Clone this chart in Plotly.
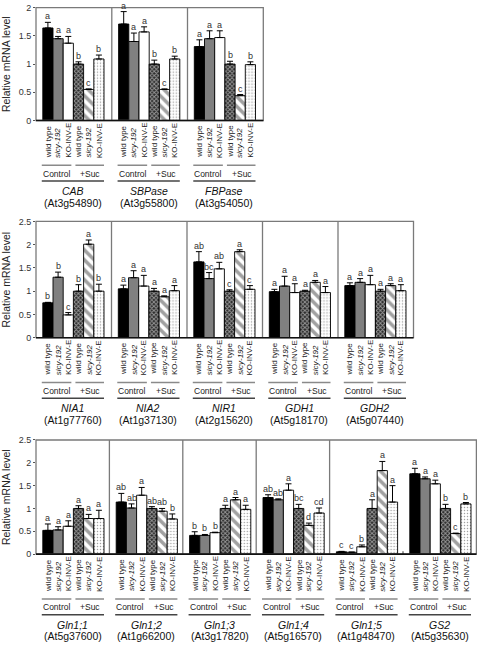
import plotly.graph_objects as go

# ---------------- data ----------------
GENOTYPES = ["wild type", "sicy-192", "KO-INV-E"]
TREATMENTS = ["Control", "+Suc"]
GENES = ["CAB", "SBPase", "FBPase",
         "NIA1", "NIA2", "NIR1", "GDH1", "GDH2",
         "Gln1;1", "Gln1;2", "Gln1;3", "Gln1;4", "Gln1;5", "GS2"]
AGI_CODES = ["At3g54890", "At3g55800", "At3g54050",
             "At1g77760", "At1g37130", "At2g15620", "At5g18170", "At5g07440",
             "At5g37600", "At1g66200", "At3g17820", "At5g16570", "At1g48470", "At5g35630"]
MEANS = [
    [1.64, 1.45, 1.37, 1.00, 0.55, 1.09],   # CAB
    [1.71, 1.40, 1.57, 1.00, 0.55, 1.09],   # SBPase
    [1.31, 1.45, 1.47, 1.00, 0.44, 0.99],   # FBPase
    [0.75, 1.30, 0.49, 1.00, 2.01, 1.00],   # NIA1
    [1.05, 1.29, 1.11, 1.00, 0.88, 1.01],   # NIA2
    [1.63, 1.27, 1.48, 1.00, 1.85, 1.04],   # NIR1
    [0.99, 1.11, 0.97, 1.00, 1.19, 0.97],   # GDH1
    [1.12, 1.19, 1.14, 1.00, 1.12, 1.01],   # GDH2
    [0.52, 0.53, 0.61, 1.00, 0.78, 0.78],   # Gln1;1
    [1.14, 1.01, 1.29, 1.00, 0.94, 0.77],   # Gln1;2
    [0.41, 0.41, 0.47, 1.00, 1.19, 0.98],   # Gln1;3
    [1.24, 1.19, 1.40, 1.00, 0.63, 0.90],   # Gln1;4
    [0.05, 0.04, 0.16, 1.00, 1.83, 1.14],   # Gln1;5
    [1.76, 1.65, 1.54, 1.00, 0.45, 1.10],   # GS2
]
ERRORS = [
    [0.10, 0.04, 0.12, 0.04, 0.01, 0.07],
    [0.22, 0.15, 0.09, 0.07, 0.01, 0.05],
    [0.12, 0.14, 0.12, 0.05, 0.02, 0.05],
    [0.01, 0.11, 0.05, 0.14, 0.09, 0.15],
    [0.08, 0.15, 0.23, 0.06, 0.02, 0.11],
    [0.22, 0.13, 0.14, 0.03, 0.04, 0.08],
    [0.05, 0.21, 0.19, 0.02, 0.04, 0.13],
    [0.06, 0.08, 0.20, 0.04, 0.04, 0.13],
    [0.14, 0.07, 0.12, 0.06, 0.09, 0.18],
    [0.19, 0.09, 0.17, 0.04, 0.06, 0.11],
    [0.08, 0.02, 0.01, 0.07, 0.05, 0.09],
    [0.06, 0.02, 0.14, 0.09, 0.05, 0.11],
    [0.01, 0.005, 0.04, 0.19, 0.20, 0.36],
    [0.12, 0.04, 0.08, 0.09, 0.01, 0.03],
]
LETTERS = [
    ["a", "a", "a", "b", "c", "b"],
    ["a", "a", "a", "b", "c", "b"],
    ["a", "a", "a", "b", "c", "b"],
    ["b", "b", "c", "b", "a", "b"],
    ["a", "a", "a", "a", "a", "a"],
    ["ab", "bc", "ab", "c", "a", "c"],
    ["a", "a", "a", "a", "a", "a"],
    ["a", "a", "a", "a", "a", "a"],
    ["a", "a", "a", "a", "a", "a"],
    ["ab", "ab", "a", "ab", "ab", "b"],
    ["b", "b", "b", "a", "a", "a"],
    ["ab", "ab", "a", "bc", "d", "cd"],
    ["c", "c", "b", "a", "a", "a"],
    ["a", "a", "a", "b", "c", "b"],
]
Y_TICKS_ROW1 = [0, 0.5, 1, 1.5, 2]
Y_TICKS_ROW23 = [0, 0.5, 1, 1.5, 2, 2.5]
Y_TITLE = "Relative mRNA level"

# ---------------- layout (pixel geometry) ----------------
W, H = 477, 649
FONT = "Liberation Sans, Arial, sans-serif"
ROWS = [
    dict(genes=[0, 1, 2], top=2.7, zero=117.3, ymax=2, ticks=Y_TICKS_ROW1,
         edges=[36, 111.8, 187.5, 263.3], no_sep=[]),
    dict(genes=[3, 4, 5, 6, 7], top=219.8, zero=337.9, ymax=2.5, ticks=Y_TICKS_ROW23,
         edges=[36, 111.5, 187, 262.5, 338, 413.5], no_sep=[]),
    dict(genes=[8, 9, 10, 11, 12, 13], top=441.8, zero=557.7, ymax=2.5, ticks=Y_TICKS_ROW23,
         edges=[36, 109.4, 182.8, 256.2, 329.6, 403, 476.4], no_sep=[5]),
]
BAR_PX = 10.2
LEFT_PAD = 6.8

BAR_COLORS = ["#000000", "#808080", "#ffffff", "#2a2a2a", "#ffffff", "#ffffff"]
PAT_SHAPE = ["", "", "", "x", "\\", "."]
PAT_FG = ["#000000", "#000000", "#000000", "#000000", "#000000", "#444444"]
PAT_BG = ["#000000", "#808080", "#ffffff", "#6a6a6a", "#ffffff", "#ffffff"]
PAT_SIZE = [6, 6, 6, 3, 7, 3]
PAT_SOL = [0.3, 0.3, 0.3, 0.55, 0.5, 0.2]


def px_x(p):
    return p / W


def px_y(p):
    return 1 - p / H


fig = go.Figure()
shapes = []
annotations = []
layout_axes = {}

k = 0
for r, row in enumerate(ROWS):
    for j, g in enumerate(row["genes"]):
        k += 1
        xa = "x" if k == 1 else f"x{k}"
        ya = "y" if k == 1 else f"y{k}"
        xl = "xaxis" if k == 1 else f"xaxis{k}"
        yl = "yaxis" if k == 1 else f"yaxis{k}"
        x0p, x1p = row["edges"][j], row["edges"][j + 1]
        width_units = (x1p - x0p) / BAR_PX
        rlo = -0.5 - LEFT_PAD / BAR_PX
        layout_axes[xl] = dict(domain=[px_x(x0p), px_x(x1p)], range=[rlo, rlo + width_units],
                               visible=False, anchor=ya, fixedrange=True)
        first = (j == 0)
        layout_axes[yl] = dict(domain=[px_y(row["zero"]), px_y(row["top"])],
                               range=[0, row["ymax"]], anchor=xa, fixedrange=True,
                               showgrid=False, zeroline=False, showline=False,
                               visible=first, tickvals=row["ticks"],
                               ticktext=[f"{t:g}" for t in row["ticks"]],
                               ticks="outside", ticklen=2, tickcolor="#555",
                               tickfont=dict(size=9, color="#333", family=FONT))

        fig.add_trace(go.Bar(
            x=list(range(6)), y=MEANS[g], xaxis=xa, yaxis=ya, width=1.0,
            marker=dict(color=BAR_COLORS, line=dict(color="black", width=0.9),
                        pattern=dict(shape=PAT_SHAPE, fgcolor=PAT_FG, bgcolor=PAT_BG,
                                     size=PAT_SIZE, solidity=PAT_SOL)),
            error_y=dict(type="data", array=ERRORS[g], arrayminus=[0] * 6, symmetric=False,
                         color="black", thickness=1, width=3),
            showlegend=False, hoverinfo="skip"))

        # significance letters
        for i in range(6):
            annotations.append(dict(x=i, y=MEANS[g][i] + ERRORS[g][i], xref=xa, yref=ya,
                                    text=LETTERS[g][i], showarrow=False, yanchor="bottom",
                                    xanchor="center", yshift=-1,
                                    font=dict(size=9, color="#333", family=FONT)))
        z = row["zero"]
        # rotated genotype labels
        for i in range(6):
            name = GENOTYPES[i % 3]
            txt = f"<i>{name}</i>" if name.startswith("sicy") else name
            annotations.append(dict(x=i, y=px_y(z + 39), xref=xa, yref="paper", text=txt,
                                    textangle=-90, showarrow=False, yanchor="bottom",
                                    xanchor="center", borderpad=0,
                                    font=dict(size=8, color="#222", family=FONT)))
        # treatment lines & labels
        for (a, b, cx, t) in [(-0.6, 2.3, 0.87, TREATMENTS[0]), (2.7, 5.5, 4.14, TREATMENTS[1])]:
            shapes.append(dict(type="line", xref=xa, yref="paper", x0=a, x1=b,
                               y0=px_y(z + 45.5), y1=px_y(z + 45.5),
                               line=dict(color="#8a8a8a", width=1.5)))
            annotations.append(dict(x=cx, y=px_y(z + 54), xref=xa, yref="paper", text=t,
                                    showarrow=False, yanchor="middle", xanchor="center",
                                    font=dict(size=8.5, color="#222", family=FONT)))
        shapes.append(dict(type="line", xref=xa, yref="paper", x0=-0.6, x1=5.5,
                           y0=px_y(z + 61.5), y1=px_y(z + 61.5),
                           line=dict(color="#444", width=1.5)))
        annotations.append(dict(x=2.45, y=px_y(z + 71.5), xref=xa, yref="paper",
                                text=f"<i>{GENES[g]}</i>", showarrow=False,
                                yanchor="middle", xanchor="center",
                                font=dict(size=10.5, color="#111", family=FONT)))
        annotations.append(dict(x=2.45, y=px_y(z + 83.5), xref=xa, yref="paper",
                                text=f"({AGI_CODES[g]})", showarrow=False,
                                yanchor="middle", xanchor="center",
                                font=dict(size=10.5, color="#111", family=FONT)))

    # frame of row
    e = row["edges"]
    shapes.append(dict(type="rect", xref="paper", yref="paper",
                       x0=px_x(e[0]), x1=px_x(e[-1]), y0=px_y(row["zero"]), y1=px_y(row["top"]),
                       line=dict(color="#7a7a7a", width=1.3), layer="above"))
    for s in range(1, len(e) - 1):
        if s in row["no_sep"]:
            shapes.append(dict(type="line", xref="paper", yref="paper",
                               x0=px_x(e[s]), x1=px_x(e[s]),
                               y0=px_y(row["zero"]), y1=px_y(row["zero"] - 3),
                               line=dict(color="#555", width=1.2), layer="above"))
            continue
        shapes.append(dict(type="line", xref="paper", yref="paper",
                           x0=px_x(e[s]), x1=px_x(e[s]),
                           y0=px_y(row["zero"]), y1=px_y(row["top"]),
                           line=dict(color="#7a7a7a", width=1.3), layer="above"))
    shapes.append(dict(type="line", xref="paper", yref="paper",
                       x0=px_x(e[0]), x1=px_x(e[-1]),
                       y0=px_y(row["zero"]), y1=px_y(row["zero"]),
                       line=dict(color="#111", width=1.6), layer="above"))
    # y-axis title
    annotations.append(dict(x=px_x(6), y=px_y((row["zero"] + row["top"]) / 2), xref="paper",
                            yref="paper", text=Y_TITLE, textangle=-90, showarrow=False,
                            xanchor="center", yanchor="middle",
                            font=dict(size=10.5, color="#222", family=FONT)))

fig.update_layout(width=W, height=H, margin=dict(l=0, r=0, t=0, b=0),
                  paper_bgcolor="white", plot_bgcolor="rgba(0,0,0,0)",
                  shapes=shapes, annotations=annotations, barmode="overlay",
                  font=dict(family=FONT), **layout_axes)
fig.write_html("out.html", config={"displayModeBar": False, "staticPlot": True},
               post_script="document.body.style.margin='0px';"
                           "document.body.style.overflow='hidden';")
